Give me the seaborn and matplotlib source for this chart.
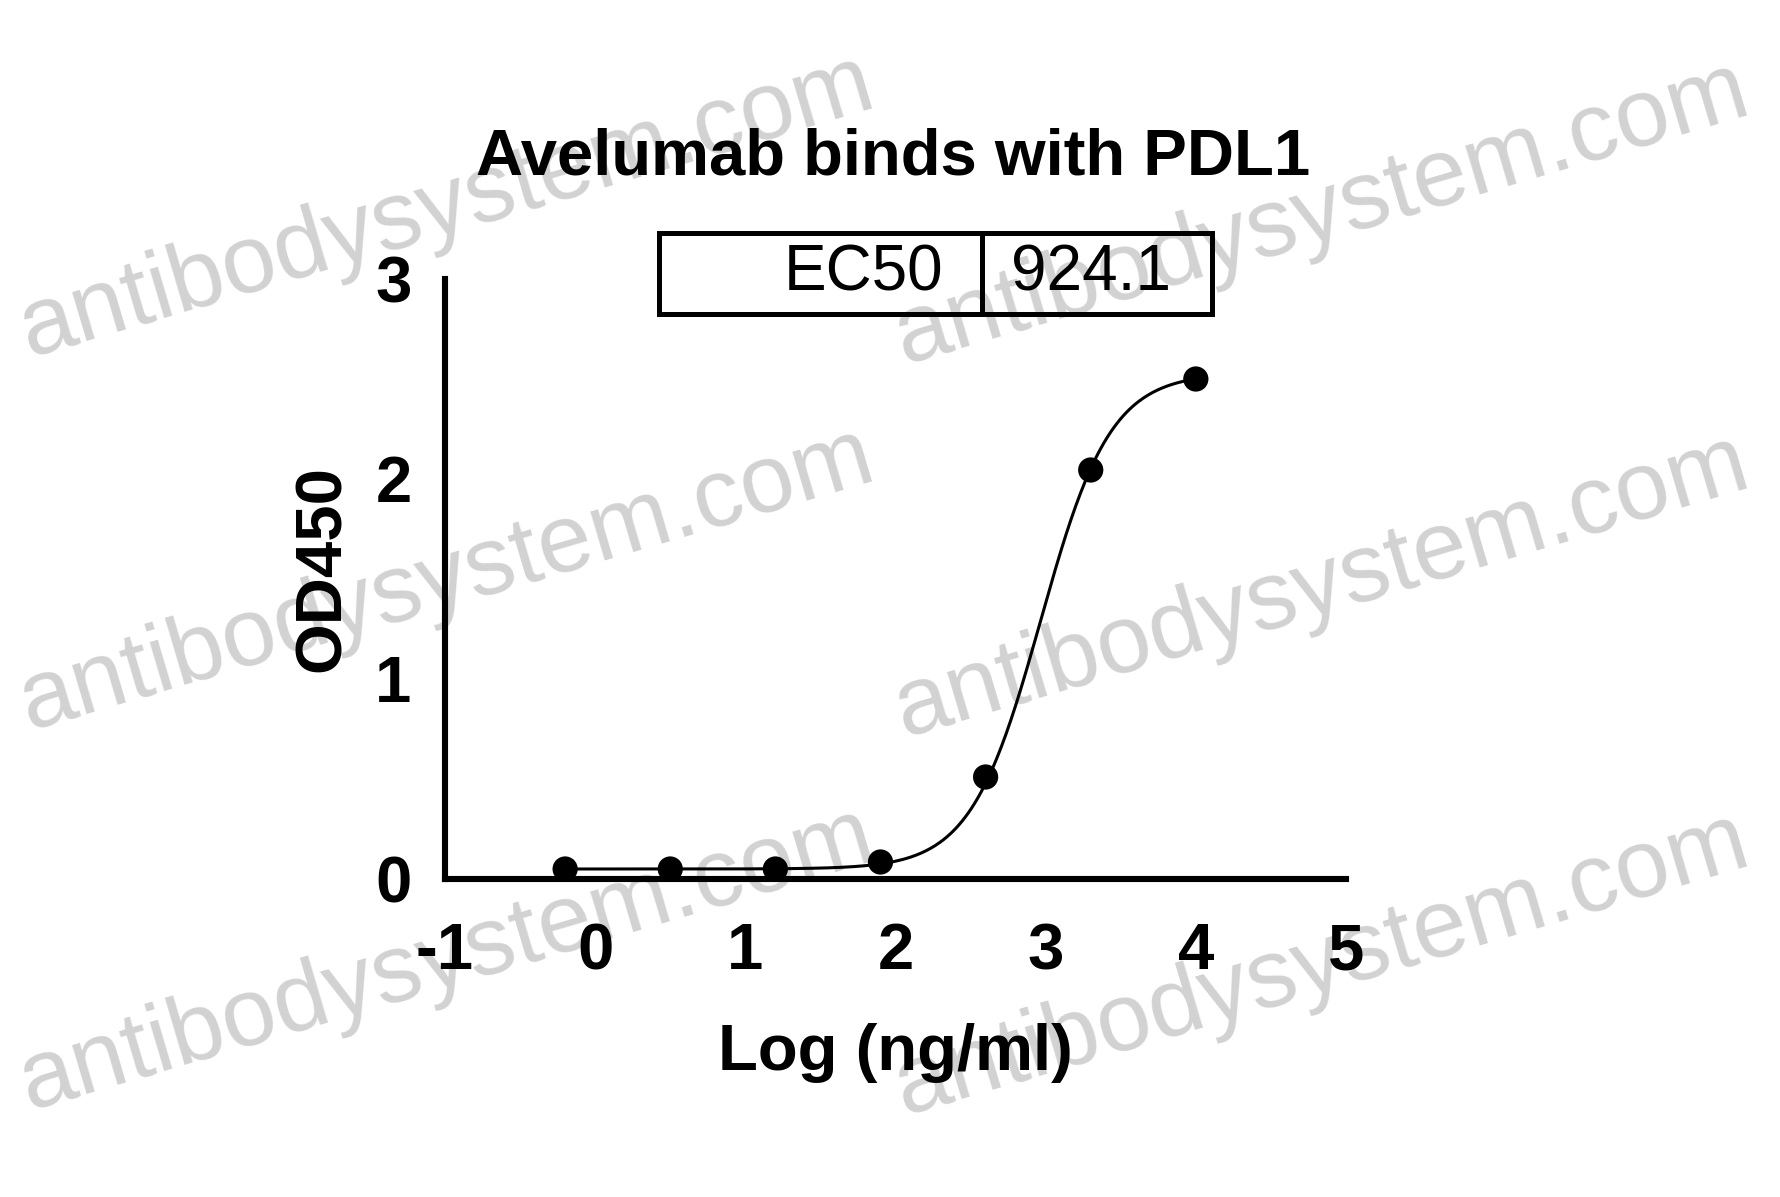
import numpy as np
import pandas as pd
import matplotlib
matplotlib.use('Agg')
import matplotlib.pyplot as plt
import seaborn as sns

# measured points (log concentration vs OD450)
log_conc = [-0.2, 0.5, 1.2, 1.9, 2.6, 3.3, 4.0]
od450 = [0.05, 0.05, 0.05, 0.085, 0.51, 2.045, 2.50]

# 4PL fit parameters of the curve
fit_bottom = 0.05
fit_top = 2.53
fit_ec50 = 924.1
fit_hill = 1.86

x_ticks = [-1, 0, 1, 2, 3, 4, 5]
y_ticks = [0, 1, 2, 3]

title = 'Avelumab binds with PDL1'
table_cells = [['EC50', '924.1']]
watermark = 'antibodysystem.com'

sns.set_theme(style='white')
plt.rcParams['font.family'] = ['Liberation Sans', 'DejaVu Sans']
plt.rcParams['text.color'] = 'black'
plt.rcParams['axes.labelcolor'] = 'black'
plt.rcParams['xtick.color'] = 'black'
plt.rcParams['ytick.color'] = 'black'

df = pd.DataFrame({'log_conc': log_conc, 'od450': od450})
x_fit = np.linspace(min(log_conc), max(log_conc), 400)
y_fit = fit_bottom + (fit_top - fit_bottom) / (1 + 10 ** ((np.log10(fit_ec50) - x_fit) * fit_hill))
fit_df = pd.DataFrame({'log_conc': x_fit, 'od450': y_fit})

fig = plt.figure(figsize=(17.81, 11.97), dpi=100)
fig.patch.set_facecolor('white')

# watermark behind everything
for cx, cy in [(447, 207), (1322, 214), (447, 580), (1322, 587), (447, 960), (1322, 965)]:
    fig.text(cx / 1781, 1 - cy / 1197, watermark, fontsize=70, color='#d2d2d2',
             rotation=16.5, rotation_mode='anchor', ha='center', va='center', zorder=-5)

ax = fig.add_axes([445 / 1781, 1 - 879 / 1197, 901 / 1781, 600 / 1197])
ax.set_facecolor('none')

sns.lineplot(data=fit_df, x='log_conc', y='od450', ax=ax, color='black', linewidth=2.2)
sns.scatterplot(data=df, x='log_conc', y='od450', ax=ax, color='black', s=330,
                edgecolor='none', clip_on=False, zorder=5)

ax.set_xlim(-1, 5)
ax.set_ylim(0, 3)
ax.set_xticks(x_ticks)
ax.set_yticks(y_ticks)
ax.set_xticklabels([str(t) for t in x_ticks], fontsize=47, fontweight='bold')
ax.set_yticklabels([str(t) for t in y_ticks], fontsize=47, fontweight='bold')

sns.despine(ax=ax)
for side in ['left', 'bottom']:
    ax.spines[side].set_linewidth(4.4)
    ax.spines[side].set_color('black')
ax.tick_params(axis='both', direction='out', length=17, width=4.4, color='black',
               labelcolor='black')
ax.tick_params(axis='x', pad=14)
ax.tick_params(axis='y', pad=7)

ax.set_xlabel('Log (ng/ml)', fontsize=47, fontweight='bold', color='black')
ax.set_ylabel('OD450', fontsize=47, fontweight='bold', color='black')
ax.xaxis.set_label_coords(0.5, -0.318)
ax.xaxis.label.set_va('baseline')
ax.yaxis.set_label_coords(-0.136, 0.517)
ax.yaxis.label.set_va('center')

fig.text(893 / 1781, 1 - 175 / 1197, title, fontsize=47, fontweight='bold',
         color='black', ha='center', va='baseline')

tbl = ax.table(cellText=table_cells, cellLoc='right', colWidths=[0.584, 0.416],
               bbox=[0.2375, 0.9417, 0.6138, 0.135])
tbl.auto_set_font_size(False)
tbl.set_fontsize(46)
for key, cell in tbl.get_celld().items():
    cell.set_linewidth(3.6)
    cell.set_edgecolor('black')
    cell.set_facecolor('none')
    cell.set_clip_on(False)
    cell.get_text().set_color('black')
tbl[0, 0].PAD = 0.12
tbl[0, 1].PAD = 0.18

fig.savefig('out.png', dpi=100, facecolor='white')
